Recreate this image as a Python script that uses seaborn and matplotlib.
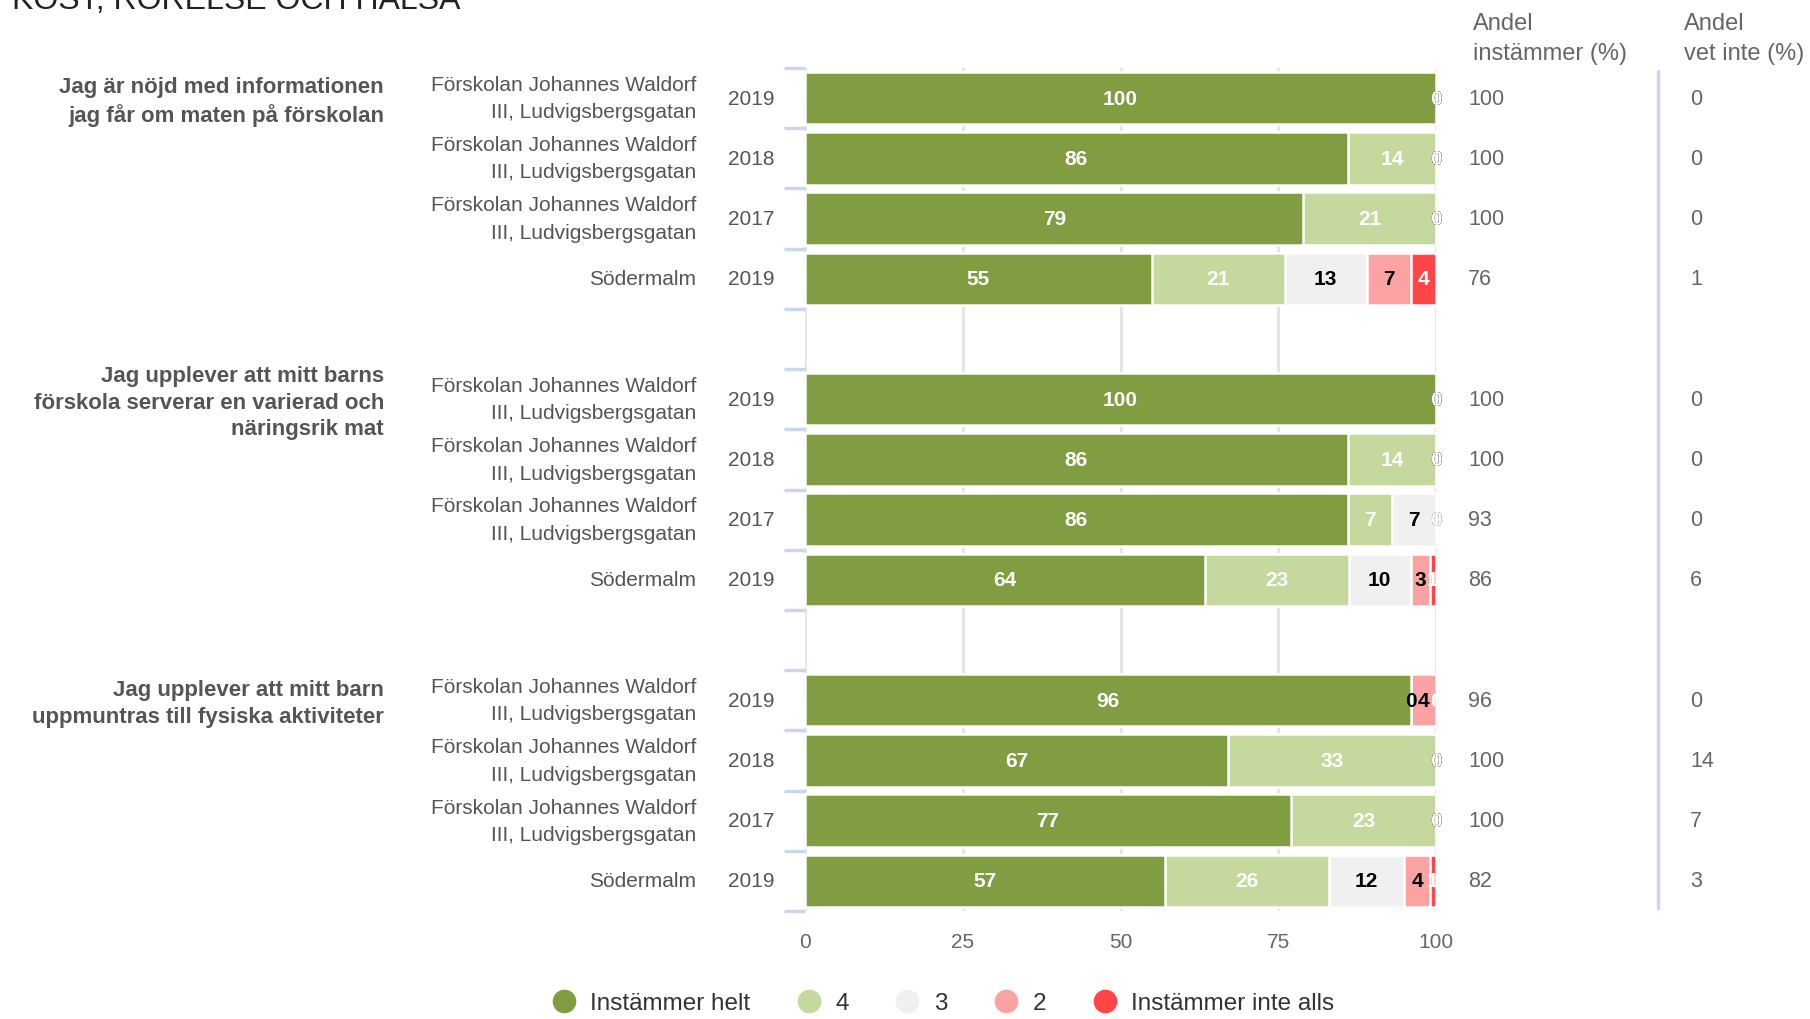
import numpy as np
import pandas as pd
import seaborn as sns
import matplotlib.pyplot as plt
from matplotlib.lines import Line2D

# --- data ---
questions = [
    "Jag är nöjd med informationen\njag får om maten på förskolan",
    "Jag upplever att mitt barns\nförskola serverar en varierad och\nnäringsrik mat",
    "Jag upplever att mitt barn\nuppmuntras till fysiska aktiviteter",
]
school = "Förskolan Johannes Waldorf\nIII, Ludvigsbergsgatan"
units = [school, school, school, "Södermalm"]
years = ["2019", "2018", "2017", "2019"]

categories = ["Instämmer helt", "4", "3", "2", "Instämmer inte alls"]
helt = [100, 86, 79, 55, 100, 86, 86, 64, 96, 67, 77, 57]
fyra = [0, 14, 21, 21, 0, 14, 7, 23, 0, 33, 23, 26]
tre = [0, 0, 0, 13, 0, 0, 7, 10, 0, 0, 0, 12]
tva = [0, 0, 0, 7, 0, 0, 0, 3, 4, 0, 0, 4]
inte = [0, 0, 0, 4, 0, 0, 0, 1, 0, 0, 0, 1]
andel_instammer = [100, 100, 100, 76, 100, 100, 93, 86, 96, 100, 100, 82]
andel_vet_inte = [0, 0, 0, 1, 0, 0, 0, 6, 0, 14, 7, 3]

colors = ["#809e41", "#c5d89d", "#f0f0f0", "#fba3a3", "#ff4545"]
label_colors = ["white", "white", "black", "black", "white"]

# slots: 4 rows per question, one empty slot between groups
slot_ids = []
for g in range(3):
    for i in range(4):
        slot_ids.append(f"q{g}r{i}")
    if g < 2:
        slot_ids.append(f"gap{g}")
row_slots = [s for s in slot_ids if not s.startswith("gap")]
row_pos = [slot_ids.index(s) for s in row_slots]

values = np.array([helt, fyra, tre, tva, inte], dtype=float)
# rounded shares may add up to 101, scale each row to 100 for the bar widths
shares = values / values.sum(axis=0) * 100
cum = np.cumsum(shares, axis=0)
df = pd.DataFrame({"slot": row_slots})
for k, cat in enumerate(categories):
    df[cat] = cum[k]

sns.set_theme(style="white")
plt.rcParams["font.family"] = ["Liberation Sans", "DejaVu Sans"]

fig = plt.figure(figsize=(18.1, 10.2), dpi=100)
ax = fig.add_axes([805 / 1810, 1 - 912 / 1020, 631 / 1810, 843 / 1020])

# stacked bars: draw cumulative totals from the back to the front
for k in range(len(categories) - 1, -1, -1):
    sns.barplot(data=df, x=categories[k], y="slot", order=slot_ids, orient="h",
                color=colors[k], width=0.87, edgecolor="white", linewidth=1.8,
                errorbar=None, saturation=1, ax=ax)

# segment labels
for k in range(len(categories)):
    for j, pos in enumerate(row_pos):
        left = cum[k][j] - shares[k][j]
        ax.text(left + shares[k][j] / 2, pos, f"{int(values[k][j])}",
                ha="center", va="center", fontsize=15, fontweight="bold",
                color=label_colors[k])

ax.set_xlim(0, 100)
ax.set_ylim(len(slot_ids) - 0.5, -0.5)
ax.set_xticks([0, 25, 50, 75, 100])
ax.set_xticklabels(["0", "25", "50", "75", "100"], color="#666666", fontsize=15)
ax.set_yticks(np.arange(-0.5, len(slot_ids), 1.0))
ax.set_yticklabels([])
ax.tick_params(axis="y", left=True, length=15, width=2.5, color="#ccd6eb", direction="out")
ax.tick_params(axis="x", length=0, pad=15)
ax.grid(axis="x", color="#e6e6e6", linewidth=2.2)
ax.grid(axis="y", visible=False)
ax.set_axisbelow(True)
for sp in ax.spines.values():
    sp.set_visible(False)
ax.set_xlabel("")
ax.set_ylabel("")

tr = ax.get_yaxis_transform()
to_ax = lambda px: (px - 805) / 631

# row labels
for j, pos in enumerate(row_pos):
    ax.text(to_ax(696), pos, units[j % 4], transform=tr, ha="right", va="center",
            multialignment="right", fontsize=15, color="#555555", linespacing=1.55)
    ax.text(to_ax(751), pos, years[j % 4], transform=tr, ha="center", va="center",
            fontsize=15, color="#555555")
    ax.text(to_ax(1468), pos, f"{andel_instammer[j]}", transform=tr, ha="left",
            va="center", fontsize=15.5, color="#666666")
    ax.text(to_ax(1690), pos, f"{andel_vet_inte[j]}", transform=tr, ha="left",
            va="center", fontsize=15.5, color="#666666")

# question labels, centred on first row of each group
for g, q in enumerate(questions):
    ax.text(to_ax(384), row_pos[g * 4] + 0.05, q, transform=tr, ha="right", va="center",
            multialignment="right", fontsize=16, fontweight="bold", color="#555555",
            linespacing=1.35)

# separator between the two right columns
ax.plot([to_ax(1658)] * 2, [-0.45, len(slot_ids) - 0.55], transform=tr,
        color="#ccd6eb", linewidth=2.5, clip_on=False)

# column headers
fig.text(1473 / 1810, 1 - 39 / 1020, "Andel\ninstämmer (%)", ha="left", va="center",
         fontsize=17, color="#666666", linespacing=1.5)
fig.text(1684 / 1810, 1 - 39 / 1020, "Andel\nvet inte (%)", ha="left", va="center",
         fontsize=17, color="#666666", linespacing=1.5)

# title, partly cut off at the top as in the reference
fig.text(12 / 1810, 1 - 9 / 1020, "KOST, RÖRELSE OCH HÄLSA", ha="left", va="baseline",
         fontsize=23, color="#222222")

# legend
handles = [Line2D([], [], marker="o", linestyle="", markersize=16,
                  markerfacecolor=c, markeredgecolor=c) for c in colors]
fig.legend(handles, categories, loc="lower center", bbox_to_anchor=(0.521, -0.017),
           ncol=5, frameon=False, fontsize=17.5, labelcolor="#333333",
           handlelength=1.0, handletextpad=0.6, columnspacing=1.9)

fig.savefig("out.png", dpi=100)
